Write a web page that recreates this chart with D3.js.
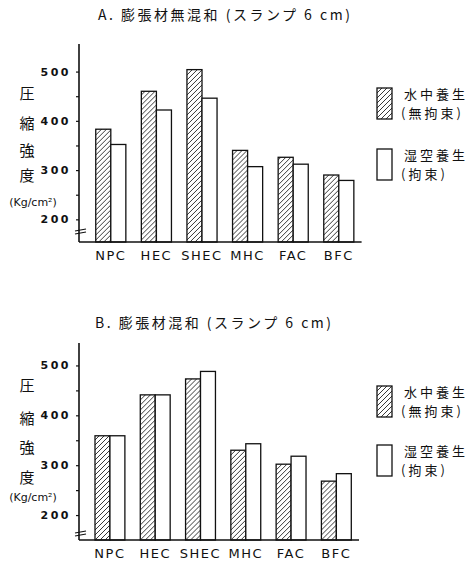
<!DOCTYPE html>
<html>
<head>
<meta charset="utf-8">
<script src="https://cdn.jsdelivr.net/npm/d3@7"></script>
<style>
  body { margin: 0; background: #fff; }
  svg { display: block; }
  text { fill: #111; }
  .jp { font-family: "Noto Sans CJK JP", sans-serif; }
  .lat { font-family: "DejaVu Sans", sans-serif; }
</style>
</head>
<body>
<svg id="chart" width="473" height="564"></svg>
<script>
// Categories and values (compressive strength, kg/cm2)
var categories = ["NPC", "HEC", "SHEC", "MHC", "FAC", "BFC"];
var waterA = [383, 460, 504, 340, 326, 290];   // 水中養生 (無拘束)
var moistA = [352, 422, 446, 307, 312, 279];   // 湿空養生 (拘束)
var waterB = [359, 441, 473, 330, 302, 268];
var moistB = [359, 441, 488, 343, 318, 283];
var yTicks = [200, 250, 300, 350, 400, 450, 500];
var yLabels = [200, 300, 400, 500];
var titleA = "A. 膨張材無混和 (スランプ 6 cm)";
var titleB = "B. 膨張材混和 (スランプ 6 cm)";
var legendNames = [["水中養生", "(無拘束)"], ["湿空養生", "(拘束)"]];

var svg = d3.select("#chart");

// hatch pattern for the water-cured bars
var defs = svg.append("defs");
defs.append("pattern")
  .attr("id", "hatch")
  .attr("patternUnits", "userSpaceOnUse")
  .attr("width", 5)
  .attr("height", 5)
  .append("path")
    .attr("d", "M0,5 L5,0 M-1,1 L1,-1 M4,6 L6,4")
    .attr("stroke", "#222")
    .attr("stroke-width", 0.9);

function drawPanel(opt) {
  var g = svg.append("g");

  var y = d3.scaleLinear().domain(opt.yDomain).range([opt.bottom, opt.top]);
  var x = d3.scaleBand()
    .domain(categories)
    .range(opt.xRange)
    .paddingInner(0.34)
    .paddingOuter(0.17);
  var xs = d3.scaleBand().domain([0, 1]).range([0, x.bandwidth()]);

  // title
  g.append("text")
    .attr("class", "jp")
    .attr("x", opt.titleX)
    .attr("y", opt.titleY)
    .attr("font-size", 14)
    .attr("letter-spacing", 2.5)
    .text(opt.title);

  // bars
  var rows = categories.map(function(c, i) { return [opt.water[i], opt.moist[i]]; });
  var grp = g.selectAll(".grp")
    .data(rows)
    .enter().append("g")
    .attr("transform", function(d, i) { return "translate(" + x(categories[i]) + ",0)"; });

  grp.selectAll("rect")
    .data(function(d) { return d; })
    .enter().append("rect")
    .attr("x", function(d, j) { return xs(j); })
    .attr("y", function(d) { return y(d); })
    .attr("width", xs.bandwidth())
    .attr("height", function(d) { return opt.bottom - y(d); })
    .attr("fill", function(d, j) { return j === 0 ? "url(#hatch)" : "#fff"; })
    .attr("stroke", "#111")
    .attr("stroke-width", 1.3);

  // y axis
  var axis = d3.axisLeft(y)
    .tickValues(yTicks)
    .tickSize(3)
    .tickPadding(5)
    .tickFormat(function(d) { return yLabels.indexOf(d) >= 0 ? d : ""; });
  var ax = g.append("g")
    .attr("transform", "translate(" + opt.axisX + ",0)")
    .call(axis);
  ax.select(".domain").remove();
  ax.selectAll("line").attr("stroke", "#111").attr("stroke-width", 1.2);
  ax.selectAll("text")
    .attr("class", "lat")
    .attr("font-size", 11)
    .attr("font-weight", "bold")
    .attr("letter-spacing", 2.5)
    .attr("fill", "#111");

  g.append("line")
    .attr("x1", opt.axisX).attr("x2", opt.axisX)
    .attr("y1", opt.top).attr("y2", opt.bottom)
    .attr("stroke", "#111").attr("stroke-width", 1.6);
  g.append("line")
    .attr("x1", opt.axisX).attr("x2", opt.xRange[1])
    .attr("y1", opt.bottom).attr("y2", opt.bottom)
    .attr("stroke", "#111").attr("stroke-width", 1.4);

  // axis break marks
  [0, 3].forEach(function(dy) {
    g.append("line")
      .attr("x1", opt.axisX - 4).attr("x2", opt.axisX + 7)
      .attr("y1", opt.breakY + dy + 1).attr("y2", opt.breakY + dy - 1)
      .attr("stroke", "#111").attr("stroke-width", 1.2);
  });

  // category labels
  g.selectAll(".cat")
    .data(categories)
    .enter().append("text")
    .attr("class", "lat")
    .attr("x", function(d) { return x(d) + x.bandwidth() / 2; })
    .attr("y", opt.bottom + 18)
    .attr("text-anchor", "middle")
    .attr("font-size", 13)
    .attr("letter-spacing", 1.5)
    .text(function(d) { return d; });

  // vertical y title
  var chars = ["圧", "縮", "強", "度"];
  g.selectAll(".ych")
    .data(chars)
    .enter().append("text")
    .attr("class", "jp")
    .attr("x", 27)
    .attr("y", function(d, i) { return opt.yTitleY[i]; })
    .attr("text-anchor", "middle")
    .attr("font-size", 15)
    .text(function(d) { return d; });
  g.append("text")
    .attr("class", "lat")
    .attr("x", 33)
    .attr("y", opt.unitY)
    .attr("text-anchor", "middle")
    .attr("font-size", 11)
    .text("(Kg/cm²)");

  // legend
  var lg = g.selectAll(".lg")
    .data(legendNames)
    .enter().append("g")
    .attr("transform", function(d, i) { return "translate(377," + opt.legendY[i] + ")"; });
  lg.append("rect")
    .attr("width", 15)
    .attr("height", 31)
    .attr("fill", function(d, i) { return i === 0 ? "url(#hatch)" : "#fff"; })
    .attr("stroke", "#111")
    .attr("stroke-width", 1.3);
  lg.append("text")
    .attr("class", "jp")
    .attr("x", 27)
    .attr("y", 11)
    .attr("font-size", 13)
    .attr("letter-spacing", 3)
    .text(function(d) { return d[0]; });
  lg.append("text")
    .attr("class", "jp")
    .attr("x", 24)
    .attr("y", 30)
    .attr("font-size", 13)
    .attr("letter-spacing", 3)
    .text(function(d) { return d[1]; });
}

drawPanel({
  title: titleA, titleX: 98, titleY: 20,
  water: waterA, moist: moistA,
  yDomain: [154, 556], top: 44, bottom: 242,
  xRange: [88, 361.6], axisX: 79, breakY: 230,
  yTitleY: [99, 129, 156, 181], unitY: 206,
  legendY: [88, 149]
});

drawPanel({
  title: titleB, titleX: 95, titleY: 328,
  water: waterB, moist: moistB,
  yDomain: [150, 545], top: 343, bottom: 540,
  xRange: [87.3, 359], axisX: 79, breakY: 532,
  yTitleY: [391, 424, 453, 483], unitY: 501,
  legendY: [386, 445]
});
</script>
</body>
</html>
